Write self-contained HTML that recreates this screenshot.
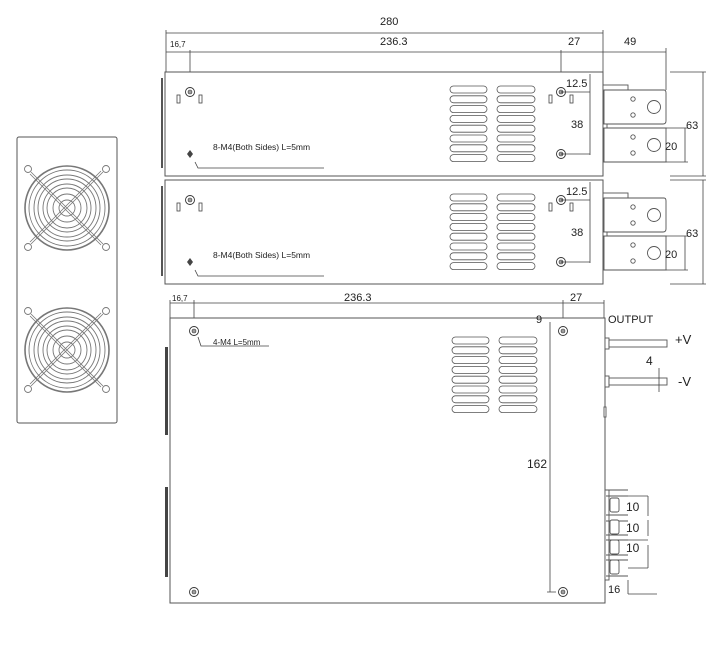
<!DOCTYPE html>
<html><head><meta charset="utf-8"><style>
html,body{margin:0;padding:0;background:#fff;}
svg{display:block;}
text{font-family:"Liberation Sans",sans-serif;fill:#222;}
</style></head><body>
<svg width="727" height="649" viewBox="0 0 727 649" xmlns="http://www.w3.org/2000/svg">
<defs>
<g id="vents" fill="none" stroke="#555" stroke-width="0.8">
<rect x="0" y="0" width="37" height="7" rx="3.5"/><rect x="47" y="0" width="38" height="7" rx="3.5"/>
<rect x="0" y="9.8" width="37" height="7" rx="3.5"/><rect x="47" y="9.8" width="38" height="7" rx="3.5"/>
<rect x="0" y="19.6" width="37" height="7" rx="3.5"/><rect x="47" y="19.6" width="38" height="7" rx="3.5"/>
<rect x="0" y="29.4" width="37" height="7" rx="3.5"/><rect x="47" y="29.4" width="38" height="7" rx="3.5"/>
<rect x="0" y="39.2" width="37" height="7" rx="3.5"/><rect x="47" y="39.2" width="38" height="7" rx="3.5"/>
<rect x="0" y="49" width="37" height="7" rx="3.5"/><rect x="47" y="49" width="38" height="7" rx="3.5"/>
<rect x="0" y="58.8" width="37" height="7" rx="3.5"/><rect x="47" y="58.8" width="38" height="7" rx="3.5"/>
<rect x="0" y="68.6" width="37" height="7" rx="3.5"/><rect x="47" y="68.6" width="38" height="7" rx="3.5"/>
</g>
<g id="screw"><circle r="4.5" fill="#fff" stroke="#333" stroke-width="0.9"/><circle r="2.3" fill="#444"/><path d="M-2 0H2M0-2V2" stroke="#fff" stroke-width="0.6"/></g>
<g id="fan" fill="none" stroke="#777" stroke-width="0.9">
<circle r="42" stroke-width="1.6"/><circle r="38"/><circle r="33"/><circle r="29"/><circle r="24"/><circle r="20"/><circle r="14"/><circle r="8"/>
<path d="M-36-36L36 36M-37-34L34 37M36-36L-36 36M34-37L-37 34" stroke-width="0.8"/>
<circle cx="-39" cy="-39" r="3.5"/><circle cx="39" cy="-39" r="3.5"/><circle cx="-39" cy="39" r="3.5"/><circle cx="39" cy="39" r="3.5"/>
</g>
<g id="side">
<rect x="165" y="0" width="438" height="104" fill="#fff" stroke="#555" stroke-width="1"/>
<rect x="161" y="6" width="2" height="90" fill="#555"/>
<use href="#screw" x="190" y="20"/>
<use href="#screw" x="561" y="20"/>
<use href="#screw" x="561" y="82"/>
<path d="M190 78L193 82L190 86L187 82Z" fill="#444"/>
<g fill="none" stroke="#444" stroke-width="0.8">
<rect x="177" y="23" width="3" height="8"/><rect x="199" y="23" width="3" height="8"/>
<rect x="549" y="23" width="3" height="8"/><rect x="570" y="23" width="3" height="8"/>
</g>
<use href="#vents" x="450" y="14"/>
<text x="213" y="78" font-size="8.5">8-M4(Both Sides) L=5mm</text>
<path d="M195 90L198 96H324" fill="none" stroke="#444" stroke-width="0.8"/>
<path d="M561 20H590M561 82H590M590 2V83" fill="none" stroke="#444" stroke-width="0.8"/>
<text x="566" y="15" font-size="11">12.5</text>
<text x="571" y="56" font-size="11">38</text>
<g fill="#fff" stroke="#555" stroke-width="0.9">
<rect x="603" y="13" width="25" height="6"/>
<path d="M604 18H664Q666 18 666 21V49Q666 52 663 52H604Z"/>
<path d="M604 56H666V90H604Z"/>
<rect x="603" y="52" width="4" height="4"/>
<circle cx="633" cy="27" r="2.2"/><circle cx="633" cy="43" r="2.2"/><circle cx="654" cy="35" r="6.5"/>
<circle cx="633" cy="65" r="2.2"/><circle cx="633" cy="81" r="2.2"/><circle cx="654" cy="73" r="6.5"/>
</g>
<path d="M666 56H688M666 90H688M685 56V90M703 0V104M670 0H706M670 104H706" fill="none" stroke="#444" stroke-width="0.8"/>
<text x="665" y="78" font-size="11">20</text>
<text x="686" y="57" font-size="11">63</text>
</g>
</defs>

<rect x="17" y="137" width="100" height="286" rx="2" fill="#fff" stroke="#555" stroke-width="1"/>
<use href="#fan" x="67" y="208"/>
<use href="#fan" x="67" y="350"/>

<g stroke="#444" stroke-width="0.8" fill="none">
<path d="M166 33H603M166 52H666M166 30V72M603 30V72M190 50V86M561 50V86M666 48V90"/>
</g>
<text x="380" y="25" font-size="11">280</text>
<text x="380" y="45" font-size="11">236.3</text>
<text x="170" y="47" font-size="8">16,7</text>
<text x="568" y="45" font-size="11">27</text>
<text x="624" y="45" font-size="11">49</text>

<use href="#side" x="0" y="72"/>
<use href="#side" x="0" y="180"/>

<g stroke="#444" stroke-width="0.8" fill="none">
<path d="M170 303H604M170 300V318M194 300V331M563 300V331M604 300V318"/>
</g>
<text x="172" y="301" font-size="8">16,7</text>
<text x="344" y="301" font-size="11">236.3</text>
<text x="570" y="301" font-size="11">27</text>
<rect x="170" y="318" width="435" height="285" fill="#fff" stroke="#555" stroke-width="1"/>
<rect x="165" y="347" width="3" height="88" fill="#444"/>
<rect x="165" y="487" width="3" height="90" fill="#444"/>
<use href="#screw" x="194" y="331"/>
<use href="#screw" x="563" y="331"/>
<use href="#screw" x="194" y="592"/>
<use href="#screw" x="563" y="592"/>
<text x="213" y="345" font-size="8">4-M4 L=5mm</text>
<path d="M198 337L201 346H269" fill="none" stroke="#444" stroke-width="0.8"/>
<use href="#vents" x="452" y="337"/>
<path d="M550 322V592M547 592H556" fill="none" stroke="#444" stroke-width="0.8"/>
<text x="536" y="323" font-size="11">9</text>
<text x="527" y="468" font-size="12">162</text>
<text x="608" y="323" font-size="11">OUTPUT</text>
<g fill="#fff" stroke="#555" stroke-width="0.9">
<rect x="605" y="338" width="4" height="11"/>
<rect x="609" y="340" width="58" height="7"/>
<rect x="605" y="376" width="4" height="11"/>
<rect x="609" y="378" width="58" height="7"/>
<rect x="604" y="407" width="2" height="10"/>
</g>
<text x="675" y="344" font-size="13">+V</text>
<text x="678" y="386" font-size="13">-V</text>
<text x="646" y="365" font-size="12">4</text>
<path d="M659 368V392" stroke="#444" stroke-width="0.8"/>
<g fill="#fff" stroke="#555" stroke-width="0.9">
<rect x="605" y="490" width="4" height="90"/>
<path d="M606 490H628M606 496H628"/>
<rect x="610" y="498" width="9" height="14" rx="2"/>
<path d="M606 515H628M606 521H628"/>
<rect x="610" y="520" width="9" height="14" rx="2"/>
<path d="M606 535H628M606 540H628"/>
<rect x="610" y="540" width="9" height="14" rx="2"/>
<path d="M606 555H628M606 560H628"/>
<rect x="610" y="560" width="9" height="14" rx="2"/>
<path d="M606 576H628"/>
</g>
<path d="M628 496H648M648 496V516M628 540H648M648 520V536M648 545V568M628 568H648M628 594H657M628 580V594" fill="none" stroke="#444" stroke-width="0.8"/>
<text x="626" y="511" font-size="12">10</text>
<text x="626" y="532" font-size="12">10</text>
<text x="626" y="552" font-size="12">10</text>
<text x="608" y="593" font-size="11">16</text>
</svg>
</body></html>
